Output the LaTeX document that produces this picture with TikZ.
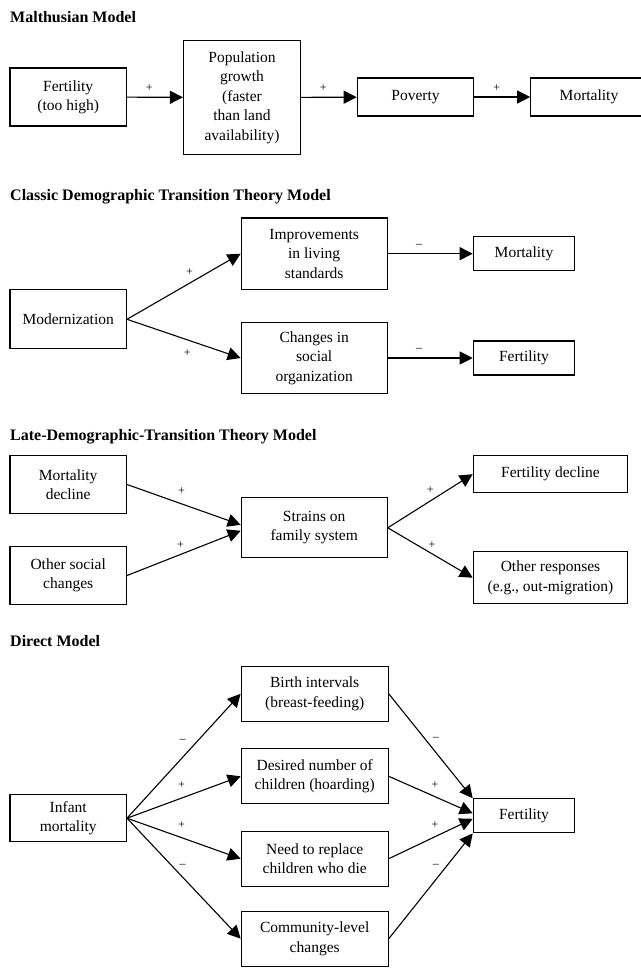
\documentclass[tikz,border=0pt]{standalone}
\usepackage{fontspec}
\setmainfont{Liberation Serif}
\usetikzlibrary{arrows.meta}
\tikzset{
  box/.style={draw,line width=1.1pt,align=center,inner sep=2pt,font=\fontsize{15.5}{19.4}\selectfont},
  arr/.style={line width=1.1pt,-{Triangle[length=13pt,width=13pt]}},
  sign/.style={font=\fontsize{12}{14}\selectfont,inner sep=1pt,text height=5pt,text depth=0pt},
  ttl/.style={anchor=base west,inner sep=0pt,font=\fontsize{16}{19}\selectfont\bfseries},
}
\begin{document}
\begin{tikzpicture}[x=1pt,y=-1pt]
	\useasboundingbox (0,0) rectangle (640,969);
	\node[ttl] (t1) at (10,22) {Malthusian Model};
	\node[box,minimum width=116.5pt,minimum height=58pt] (fert1) at (68.2,97) {Fertility\\(too high)};
	\node[box,minimum width=117pt,minimum height=113.5pt] (popg) at (242,97.5) {Population\\growth\\(faster\\than land\\availability)};
	\node[box,minimum width=116.5pt,minimum height=38pt] (pov) at (415.5,97) {Poverty};
	\node[box,minimum width=116.5pt,minimum height=38pt] (mort1) at (589,97) {Mortality};
	\foreach \a/\b in {fert1/popg,popg/pov,pov/mort1}{
	    \draw[arr] (\a) -- node[sign,pos=.4,above=4pt]{+} (\b);
	}
	\node[ttl] (t2) at (10,200) {Classic Demographic Transition Theory Model};
	\node[box,minimum width=116.5pt,minimum height=59pt] (modz) at (68.2,319.3) {Modernization};
	\node[box,minimum width=146pt,minimum height=71.5pt] (impr) at (314.2,253.7) {Improvements\\in living\\standards};
	\node[box,minimum width=146pt,minimum height=71.5pt] (chg) at (314.2,358) {Changes in\\social\\organization};
	\node[box,minimum width=101.5pt,minimum height=34pt] (mort2) at (524,253.7) {Mortality};
	\node[box,minimum width=101.5pt,minimum height=34pt] (fert2) at (524,358) {Fertility};
	\draw[arr] (modz.east) -- node[sign,pos=.55,above=6.5pt]{+} (impr.west);
	\draw[arr] (modz.east) -- node[sign,pos=.53,below=10.5pt]{+} (chg.west);
	\foreach \a/\b in {impr/mort2,chg/fert2}{
	    \draw[arr] (\a) -- node[sign,pos=.37,above=5pt]{\textendash} (\b);
	}
	\node[ttl] (t3) at (10,440) {Late-Demographic-Transition Theory Model};
	\node[box,minimum width=116.5pt,minimum height=58pt] (mdec) at (68.2,484.5) {Mortality\\decline};
	\node[box,minimum width=116.5pt,minimum height=58pt] (osoc) at (68.2,575.5) {Other social\\changes};
	\node[box,minimum width=146pt,minimum height=60pt] (strn) at (314.2,527.8) {Strains on\\family system};
	\node[box,minimum width=154.5pt,minimum height=37pt] (fdec) at (550.5,474.2) {Fertility decline};
	\node[box,minimum width=154.5pt,minimum height=52pt] (oresp) at (550.5,577.7) {Other responses\\(e.g., out-migration)};
	\draw[arr] (mdec.east) -- node[sign,pos=.48,above=8pt]{+} ([yshift=3pt]strn.west);
	\draw[arr] (osoc.east) -- node[sign,pos=.47,above=4.5pt]{+} ([yshift=-3pt]strn.west);
	\draw[arr] (strn.east) -- node[sign,pos=.5,above=6pt]{+} (fdec.west);
	\draw[arr] (strn.east) -- node[sign,pos=.52,above=4pt]{+} (oresp.west);
	\node[ttl] (t4) at (10,646) {Direct Model};
	\node[box,minimum width=116.5pt,minimum height=47pt] (infm) at (68.2,818.2) {Infant\\mortality};
	\node[box,minimum width=147pt,minimum height=55pt] (birth) at (314.7,693.8) {Birth intervals\\(breast-feeding)};
	\node[box,minimum width=147pt,minimum height=55pt] (desir) at (314.7,776.3) {Desired number of\\children (hoarding)};
	\node[box,minimum width=147pt,minimum height=55pt] (need) at (314.7,858.7) {Need to replace\\children who die};
	\node[box,minimum width=147pt,minimum height=55pt] (comm) at (314.7,938.7) {Community-level\\changes};
	\node[box,minimum width=101.5pt,minimum height=34pt] (fert4) at (524,815.8) {Fertility};
	\foreach \b/\s/\p/\d in {birth/\textendash/.49/13.5pt,desir/+/.48/8pt,need/+/.48/7.5pt,comm/\textendash/.49/8.7pt}{
	    \draw[arr] (infm.east) -- node[sign,pos=\p,above=\d]{\s} (\b.west);
	}
	\draw[arr] (birth.east) -- node[sign,pos=.56,above=10pt]{\textendash} (fert4.north west);
	\draw[arr] (desir.east) -- node[sign,pos=.55,above=6.5pt]{+} ([yshift=2.5pt]fert4.west);
	\draw[arr] (need.east) -- node[sign,pos=.55,above=6.5pt]{+} ([yshift=-3pt]fert4.west);
	\draw[arr] (comm.east) -- node[sign,pos=.56,above=11pt]{\textendash} (fert4.south west);
\end{tikzpicture}
\end{document}
